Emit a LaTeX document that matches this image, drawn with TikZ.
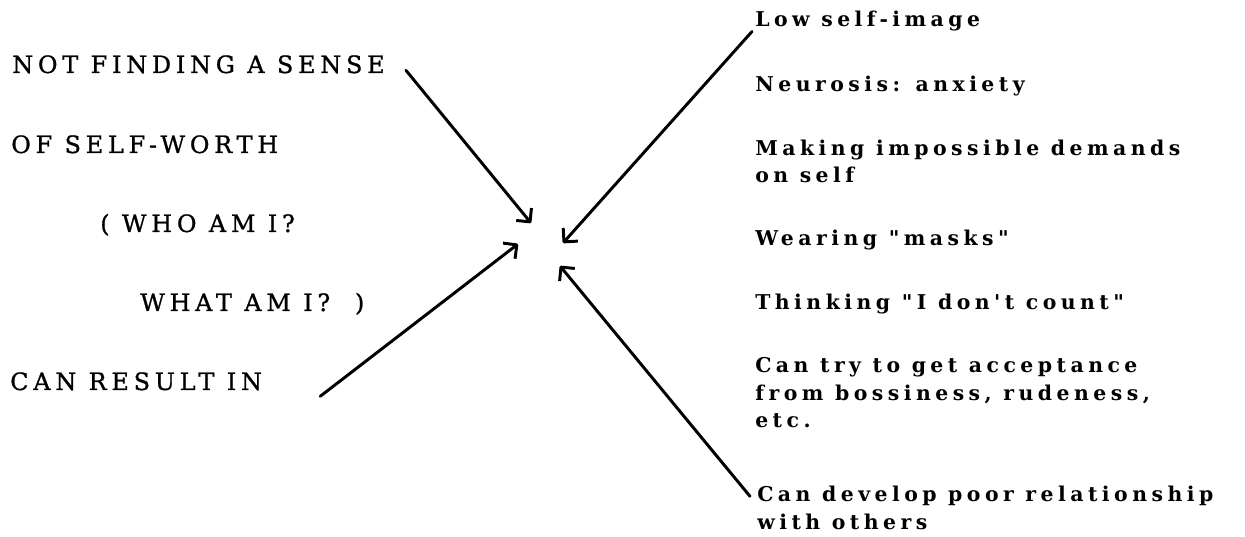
\documentclass[tikz,border=0pt]{standalone}
\usepackage{fontspec}
\usepackage{tikz}
\usetikzlibrary{arrows.meta}
\newfontfamily\capsfont[LetterSpace=20,FakeBold=1]{DejaVu Serif}
\newfontfamily\listfont[LetterSpace=22]{DejaVu Serif Bold}
\tikzset{
	lefttext/.style={anchor=base west, inner sep=0pt, font=\capsfont\fontsize{17}{20}\selectfont},
	righttext/.style={anchor=base west, inner sep=0pt, align=left, font=\listfont\fontsize{14.5}{19.85}\selectfont},
	pointer/.style={line width=2.1pt, line cap=round, -{Straight Barb[length=7pt,width=14pt,line join=round]}}
}

\begin{document}
\begin{tikzpicture}[x=0.025cm, y=-0.025cm]
	\useasboundingbox (0,0) rectangle (1245,537);
	%% left column
	\node[lefttext] (sense) at (12,73) {NOT FINDING A SENSE};
	\node[lefttext] (worth) at (11,153) {OF SELF-WORTH};
	\node[lefttext] (who) at (100,232) {( WHO AM I?};
	\node[lefttext] (what) at (140,311) {WHAT AM I?\ \ )};
	\node[lefttext] (result) at (10,390) {CAN RESULT IN};
	%% right column (base = last line)
	\node[righttext] (low) at (755,27) {Low self-image};
	\node[righttext] (neurosis) at (755,92) {Neurosis: anxiety};
	\node[righttext] (demands) at (755,183) {Making impossible demands\\on self};
	\node[righttext] (masks) at (755,246) {Wearing "masks"};
	\node[righttext] (count) at (755,310) {Thinking "I don't count"};
	\node[righttext] (accept) at (755,428) {Can try to get acceptance\\from bossiness, rudeness,\\etc.};
	\node[righttext] (poor) at (757,529) {Can develop poor relationship\\with others};
	%% where the arrows meet
	\coordinate (tipa) at (531,223);
	\coordinate (tipb) at (563,243);
	\coordinate (tipc) at (518,244);
	\coordinate (tipd) at (560,266);
	\draw[pointer] (sense.east) ++(21,6) -- (tipa);
	\draw[pointer] (low.west) ++(-3,10) -- (tipb);
	\draw[pointer] (result.east) ++(58,15) -- (tipc);
	\draw[pointer] (poor.north west) ++(-7,11) -- (tipd);
\end{tikzpicture}
\end{document}
